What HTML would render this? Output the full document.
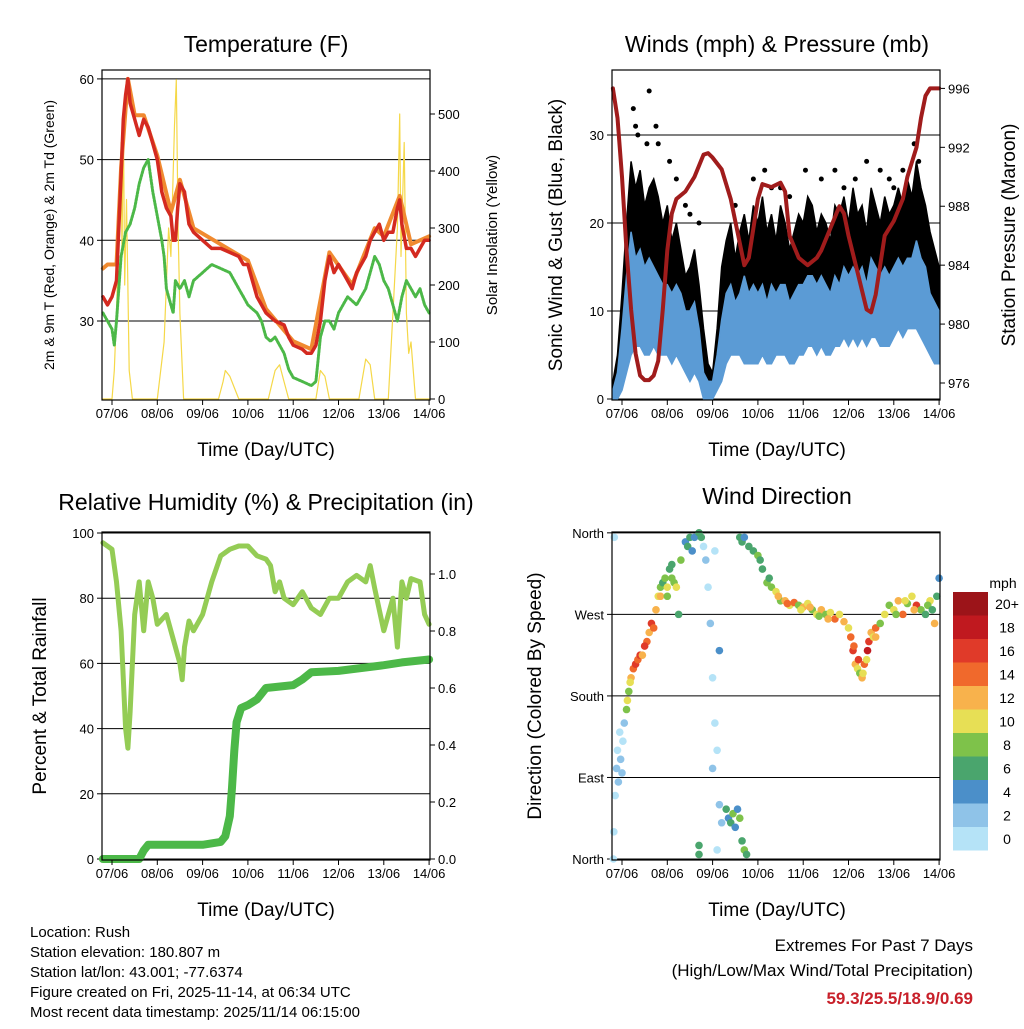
<!DOCTYPE html>
<html><head><meta charset="utf-8"><style>
body{margin:0;background:#fff}
svg text{font-family:"Liberation Sans",sans-serif;fill:#000}
</style></head><body>
<svg id="s" width="1024" height="1024" viewBox="0 0 1024 1024" xmlns="http://www.w3.org/2000/svg">
<text x="266" y="52" font-size="23" text-anchor="middle">Temperature (F)</text>
<text x="777" y="52" font-size="23" text-anchor="middle">Winds (mph) &amp; Pressure (mb)</text>
<text x="266" y="510" font-size="23" text-anchor="middle">Relative Humidity (%) &amp; Precipitation (in)</text>
<text x="777" y="504" font-size="23" text-anchor="middle">Wind Direction</text>
<text x="266" y="456" font-size="19" text-anchor="middle">Time (Day/UTC)</text>
<text x="777" y="456" font-size="19" text-anchor="middle">Time (Day/UTC)</text>
<text x="266" y="916" font-size="19" text-anchor="middle">Time (Day/UTC)</text>
<text x="777" y="916" font-size="19" text-anchor="middle">Time (Day/UTC)</text>
<text transform="translate(54,235) rotate(-90)" font-size="14" text-anchor="middle">2m &amp; 9m T (Red, Orange) &amp; 2m Td (Green)</text>
<text transform="translate(497,235) rotate(-90)" font-size="15" text-anchor="middle">Solar Insolation (Yellow)</text>
<text transform="translate(562,235) rotate(-90)" font-size="19" text-anchor="middle">Sonic Wind &amp; Gust (Blue, Black)</text>
<text transform="translate(1015,235) rotate(-90)" font-size="19" text-anchor="middle">Station Pressure (Maroon)</text>
<text transform="translate(46,696) rotate(-90)" font-size="19" text-anchor="middle">Percent &amp; Total Rainfall</text>
<text transform="translate(541,696) rotate(-90)" font-size="19" text-anchor="middle">Direction (Colored By Speed)</text>
<text x="1003" y="588" font-size="14" text-anchor="middle">mph</text>
<g font-size="15">
<text x="30" y="937">Location: Rush</text>
<text x="30" y="957">Station elevation: 180.807 m</text>
<text x="30" y="977">Station lat/lon: 43.001; -77.6374</text>
<text x="30" y="997">Figure created on Fri, 2025-11-14, at 06:34 UTC</text>
<text x="30" y="1017">Most recent data timestamp: 2025/11/14 06:15:00</text>
</g>
<g font-size="17" text-anchor="end">
<text x="973" y="951">Extremes For Past 7 Days</text>
<text x="973" y="976">(High/Low/Max Wind/Total Precipitation)</text>
<text x="973" y="1004" style="fill:#c8202a;font-weight:bold">59.3/25.5/18.9/0.69</text>
</g>
</svg>
<script>
const days=["07/06","08/06","09/06","10/06","11/06","12/06","13/06","14/06"];
const tempT=[[-0.2,33],[-0.1,32],[0,33],[0.1,35],[0.2,48],[0.25,55],[0.3,58],[0.35,60],[0.4,57],[0.5,55],[0.6,53],[0.7,55],[0.8,54],[0.9,52],[1.0,50],[1.05,48],[1.1,46],[1.2,44],[1.3,43],[1.35,40],[1.4,40],[1.45,44],[1.5,47],[1.6,46],[1.65,44],[1.7,42],[1.8,41],[2.0,40],[2.2,39],[2.4,39],[2.6,38.5],[2.8,38],[2.9,37],[3.0,37],[3.1,35],[3.2,33],[3.4,31],[3.6,30],[3.8,29.5],[3.9,28],[4.0,27],[4.2,26.5],[4.3,26],[4.4,26],[4.5,27],[4.6,30],[4.7,35],[4.8,38],[4.9,36],[5.0,37],[5.2,35],[5.3,34],[5.4,36],[5.6,38],[5.7,40],[5.8,41],[5.9,42],[6.0,40],[6.1,41],[6.2,41],[6.3,44],[6.35,45],[6.4,42],[6.5,39],[6.6,39],[6.7,38],[6.8,39],[6.9,40],[7.0,40]];
const temp9m=[[-0.2,36.5],[-0.1,37],[0,37],[0.1,37],[0.2,49],[0.35,60],[0.5,55.5],[0.7,55.5],[1.0,50.5],[1.3,43.5],[1.5,47.5],[1.8,41.5],[2.4,39.5],[3.0,37.5],[3.4,31.5],[4.0,27.5],[4.4,26.5],[4.8,38.5],[5.3,34.5],[5.8,41.5],[6.0,40.5],[6.35,45.5],[6.6,39.5],[7.0,40.5]];
const dewTd=[[-0.2,31],[-0.1,30],[0,29],[0.05,27],[0.1,30],[0.2,38],[0.3,41],[0.4,42],[0.5,44],[0.6,47],[0.7,49],[0.8,50],[0.9,46],[1.0,43],[1.1,40],[1.15,38],[1.2,34],[1.3,32],[1.35,31],[1.4,35],[1.5,34],[1.6,35],[1.7,33],[1.8,35],[2.0,36],[2.2,37],[2.4,36.5],[2.6,36],[2.8,34],[2.9,33],[3.0,32],[3.1,31.5],[3.2,31],[3.3,30],[3.4,28],[3.5,27.5],[3.6,28],[3.7,27],[3.8,26],[3.9,24],[4.0,23],[4.2,22.5],[4.4,22],[4.5,22.5],[4.6,28],[4.7,30],[4.8,30],[4.9,29],[5.0,31],[5.2,33],[5.4,32],[5.6,34],[5.7,36],[5.8,38],[5.9,37],[6.0,35],[6.1,34],[6.2,32],[6.3,30],[6.4,33],[6.5,35],[6.6,34],[6.7,33],[6.8,34],[6.9,32],[7.0,31]];
const solar=[[-0.2,0],[0,0],[0.05,50],[0.1,150],[0.15,300],[0.2,450],[0.22,250],[0.25,500],[0.28,200],[0.32,350],[0.38,50],[0.45,0],[1.0,0],[1.15,100],[1.25,300],[1.3,250],[1.38,480],[1.42,560],[1.46,300],[1.5,150],[1.58,0],[2.35,0],[2.45,30],[2.5,50],[2.6,40],[2.7,20],[2.8,0],[3.45,0],[3.6,50],[3.7,60],[3.8,30],[3.9,0],[4.5,0],[4.6,50],[4.7,40],[4.8,0],[5.45,0],[5.6,70],[5.7,60],[5.8,0],[6.1,0],[6.2,150],[6.3,300],[6.35,500],[6.38,250],[6.45,450],[6.5,150],[6.55,80],[6.6,100],[6.7,0],[7.0,0]];
const windTimes=[-0.2,-0.1,0,0.1,0.2,0.3,0.4,0.5,0.6,0.7,0.8,0.9,1.0,1.1,1.2,1.3,1.4,1.5,1.6,1.7,1.8,1.9,2.0,2.1,2.2,2.3,2.4,2.5,2.6,2.7,2.8,2.9,3.0,3.1,3.2,3.3,3.4,3.5,3.6,3.7,3.8,3.9,4.0,4.1,4.2,4.3,4.4,4.5,4.6,4.7,4.8,4.9,5.0,5.1,5.2,5.3,5.4,5.5,5.6,5.7,5.8,5.9,6.0,6.1,6.2,6.3,6.4,6.5,6.6,6.7,6.8,6.9,7.0];
const gustHi=[2,5,12,20,27,24,26,22,24,25,23,20,22,18,20,17,14,15,17,13,8,4,3,8,15,18,20,16,19,21,18,22,20,23,19,21,18,22,20,17,19,21,20,23,22,19,21,20,18,22,21,23,20,24,21,22,19,24,22,20,23,21,22,24,22,25,23,27,24,22,19,17,15];
const gustLo=[0,1,2,6,9,11,12,10,11,12,11,10,11,9,10,9,7,6,7,5,2,1,1,3,6,8,9,9,10,10,9,10,9,10,9,10,10,10,11,9,9,10,10,11,11,10,11,10,10,11,11,12,11,12,11,12,11,12,12,11,12,11,12,13,12,13,13,14,13,12,10,9,8];
const windHi=[1,3,8,14,19,16,17,15,16,15,14,13,13,12,13,12,10,10,11,8,3,2,2,5,9,12,13,11,12,14,12,13,12,13,11,13,12,13,13,11,12,13,13,14,14,13,14,13,12,14,13,15,14,15,14,15,13,16,15,14,15,14,15,16,15,16,16,18,16,15,12,11,10];
const windLo=[0,0,1,3,5,6,6,5,5,6,5,5,5,4,5,4,3,2,3,2,0,0,0,1,2,4,5,5,5,4,4,4,4,5,4,4,5,5,5,4,4,5,5,6,6,5,6,5,5,6,6,7,6,7,6,7,6,7,7,6,6,6,7,8,7,8,8,8,7,6,5,4,4];
const gustPeaks=[[0.25,33],[0.35,30],[0.6,35],[0.8,29],[0.75,31],[1.05,27],[1.2,25],[1.4,22],[1.7,20],[2.5,22],[2.9,25],[3.15,26],[3.5,24],[3.7,23],[4.05,26],[4.4,25],[4.7,26],[5.15,25],[5.4,27],[5.7,26],[6.0,24],[6.2,26],[6.45,29],[6.55,27],[6.7,20],[0.3,31],[0.55,29],[1.5,21],[3.3,24],[4.9,24],[5.9,25]];
const pressure=[[-0.2,996],[-0.1,994],[0,990],[0.1,985],[0.2,981],[0.3,978],[0.4,976.5],[0.5,976.2],[0.6,976.2],[0.7,976.5],[0.8,977.5],[0.9,981],[1.0,985],[1.1,987.5],[1.2,988.5],[1.4,989],[1.6,990],[1.8,991.5],[1.9,991.6],[2.0,991.3],[2.2,990.5],[2.4,988.5],[2.6,985.5],[2.7,984],[2.8,984.5],[2.9,986.5],[3.0,988.5],[3.1,989.5],[3.3,989.3],[3.5,989.6],[3.6,989],[3.7,986],[3.9,984.5],[4.1,984],[4.3,984.5],[4.4,985],[4.6,986.5],[4.8,988],[4.9,987.5],[5.0,986],[5.2,983.5],[5.4,981],[5.5,980.8],[5.6,982],[5.8,986],[6.0,987],[6.2,988.5],[6.3,990],[6.5,992],[6.6,994],[6.7,995.5],[6.8,996],[7.0,996]];
const rh=[[-0.2,97],[0,95],[0.1,85],[0.2,70],[0.3,40],[0.35,34],[0.4,45],[0.5,75],[0.6,85],[0.7,70],[0.8,85],[0.9,80],[1.0,72],[1.2,75],[1.4,65],[1.5,60],[1.55,55],[1.6,65],[1.7,73],[1.8,70],[2.0,75],[2.2,85],[2.4,93],[2.6,95],[2.8,96],[3.0,96],[3.2,93],[3.4,92],[3.5,90],[3.6,82],[3.7,85],[3.8,80],[4.0,78],[4.2,82],[4.4,77],[4.6,75],[4.8,80],[5.0,80],[5.2,85],[5.4,87],[5.6,85],[5.7,90],[5.8,83],[6.0,70],[6.2,80],[6.3,65],[6.4,85],[6.5,80],[6.6,86],[6.8,85],[6.9,75],[7.0,72]];
const precip=[[-0.2,0],[0.6,0],[0.7,0.03],[0.8,0.05],[1.0,0.05],[2.0,0.05],[2.4,0.06],[2.5,0.08],[2.6,0.15],[2.65,0.25],[2.7,0.38],[2.75,0.48],[2.85,0.53],[3.0,0.54],[3.2,0.56],[3.4,0.6],[4.0,0.61],[4.2,0.63],[4.4,0.655],[5.0,0.66],[6.0,0.68],[6.4,0.69],[7.0,0.70]];
const windDirObs=[[-0.18,30,1],[-0.15,70,1],[-0.12,100,2],[-0.1,120,1],[-0.08,85,2],[-0.05,140,1],[-0.03,110,3],[0,95,2],[0.02,130,1],[-0.17,355,1],[-0.19,0,1],[0.05,150,2],[0.1,165,8],[0.12,175,10],[0.15,185,9],[0.2,200,12],[0.25,210,14],[0.3,215,16],[0.35,220,14],[0.4,225,16],[0.45,225,12],[0.55,240,14],[0.6,250,12],[0.65,260,16],[0.7,255,14],[0.75,275,12],[0.8,290,10],[0.85,300,8],[0.9,305,6],[0.95,310,9],[1.0,300,10],[1.05,320,6],[1.1,325,7],[1.15,305,8],[1.2,300,10],[1.25,270,6],[1.3,330,8],[1.4,350,5],[1.45,345,6],[1.5,355,7],[1.55,340,4],[1.6,355,5],[1.7,360,7],[1.75,355,6],[1.7,5,6],[1.7,15,7],[1.8,345,1],[1.85,330,2],[1.9,300,1],[1.95,260,3],[2.0,200,1],[2.05,150,1],[2.0,100,2],[2.1,120,1],[2.15,60,2],[2.2,40,3],[2.1,10,1],[2.05,340,1],[2.15,230,4],[2.3,55,6],[2.35,45,4],[2.4,40,6],[2.45,50,8],[2.5,35,5],[2.55,55,4],[2.6,45,9],[2.65,20,6],[2.7,10,8],[2.75,5,6],[2.6,355,7],[2.65,350,6],[2.7,355,5],[2.8,345,7],[2.9,340,6],[3.0,335,8],[3.1,320,7],[3.2,305,9],[3.3,300,8],[3.4,295,10],[3.5,285,8],[3.6,285,12],[3.7,280,10],[3.8,283,14],[3.9,280,9],[4.0,278,12],[4.1,282,10],[4.2,275,8],[4.3,270,10],[4.4,275,12],[4.5,270,9],[4.6,272,10],[4.7,265,14],[4.8,270,11],[4.9,262,12],[5.0,255,10],[5.05,245,14],[5.1,230,16],[5.15,215,12],[5.2,210,10],[5.25,205,8],[5.3,200,12],[5.35,215,14],[5.4,220,10],[5.45,240,16],[5.5,250,12],[5.55,245,10],[5.6,255,14],[5.7,260,8],[5.8,270,10],[5.9,280,8],[6.0,275,10],[6.1,285,12],[6.2,270,14],[6.3,282,9],[6.4,290,10],[6.5,280,16],[6.6,275,8],[6.7,270,6],[6.8,285,10],[6.9,260,12],[6.95,290,6],[7.0,310,4],[0.18,195,10],[0.5,235,16],[0.85,290,12],[1.0,290,8],[1.1,310,9],[3.05,330,6],[3.25,310,7],[3.45,290,12],[3.65,282,14],[3.95,275,10],[4.15,278,12],[4.35,268,8],[4.55,265,12],[5.12,235,14],[5.22,220,16],[5.32,205,10],[5.42,230,18],[5.6,245,12],[6.05,270,8],[6.25,285,10],[6.45,275,12],[6.75,280,8],[6.85,275,6]];
const speedLabels=["0","2","4","6","8","10","12","14","16","18","20+"];
const speedColors=["#b5e3f7","#8fc3e8","#4b8fc9","#4aa56d","#7ec24a","#e7df55","#f8b24c","#f0692c","#e03a29","#c0191f","#9c1419"];
const tempTicks=[30,40,50,60],solarTicks=[0,100,200,300,400,500];
const windTicks=[0,10,20,30],pressTicks=[976,980,984,988,992,996];
const rhTicks=[0,20,40,60,80,100],prTicks=[0,0.2,0.4,0.6,0.8,1.0];
const dirTicks=[[0,"North"],[90,"East"],[180,"South"],[270,"West"],[360,"North"]];

const S=document.getElementById('s'),NS="http://www.w3.org/2000/svg";
function mk(tag,at,parent){const e=document.createElementNS(NS,tag);for(const k in at)e.setAttribute(k,at[k]);(parent||S).appendChild(e);return e;}
const X1=t=>112+t*45.3, X2=t=>622+t*45.3;
const yT=v=>321-(v-30)*8.07, yS=v=>399-v*0.57;
const yW=v=>399-v*8.8, yP=v=>383-(v-976)*14.73;
const yH=v=>859-v*3.26, yR=v=>859-v*285;
const yD=d=>859-d*0.906;
function line(arr,X,Y,col,w,name){const p=mk('polyline',{points:arr.map(a=>X(a[0]).toFixed(1)+','+Y(a[1]).toFixed(1)).join(' '),fill:'none',stroke:col,'stroke-width':w,'stroke-linejoin':'round','stroke-linecap':'round'});

return p;}
function band(hi,lo,X,Y,col,name){let pts=windTimes.map((t,i)=>X(t)+','+Y(hi[i]));pts=pts.concat(windTimes.map((t,i)=>X(t)+','+Y(lo[i])).reverse());
const p=mk('polygon',{points:pts.join(' '),fill:col,stroke:col,'stroke-width':1.5});

}
function frame(x0,y0,x1,y1,X,name){const r=mk('rect',{x:x0,y:y0,width:x1-x0,height:y1-y0,fill:'none',stroke:'#000','stroke-width':1.2});


days.forEach((d,i)=>{const x=X(i);mk('line',{x1:x,x2:x,y1:y1,y2:y1+5,stroke:'#000'});const t=mk('text',{x:x,y:y1+18,'font-size':13,'text-anchor':'middle'});t.textContent=d;

});}
function lticks(vals,Y,x0,x1,grid,fmt,side){vals.forEach(v=>{const val=Array.isArray(v)?v[0]:v,lab=Array.isArray(v)?v[1]:fmt(v);const y=Y(val);
if(grid)mk('line',{x1:x0,x2:x1,y1:y,y2:y,stroke:'#000','stroke-width':1});
const xa=side==='l'?x0:x1;mk('line',{x1:xa,x2:xa+(side==='l'?-5:5),y1:y,y2:y,stroke:'#000'});
const t=mk('text',{x:side==='l'?x0-8:x1+8,y:y+5,'font-size':13,'text-anchor':side==='l'?'end':'start'});t.textContent=lab;

});}
// Panel 1
lticks(tempTicks,yT,102,430,true,v=>v,'l');
lticks(solarTicks,yS,102,430,false,v=>v,'r');
line(solar,X1,yS,'#f5d848',1.2,'solar-line');
line(temp9m,X1,yT,'#f08a30',4,'temp-9m-line');
line(tempT,X1,yT,'#d42a20',3.5,'temp-2m-line');
line(dewTd,X1,yT,'#4cb848',3,'dewpoint-line').setAttribute('stroke-dasharray','2 1.5');
frame(102,70,430,400,X1,'temperature-plot-frame');
// Panel 2
lticks(windTicks,yW,612,940,true,v=>v,'l');
lticks(pressTicks,yP,612,940,false,v=>v,'r');
band(gustHi,gustLo,X2,yW,'#000','gust-band');
gustPeaks.forEach(g=>{const c=mk('circle',{cx:X2(g[0]),cy:yW(g[1]),r:2.5,fill:'#000'});

});
band(windHi,windLo,X2,yW,'#5b9bd5','wind-band');
line(pressure,X2,yP,'#a01c1c',4,'pressure-line');
frame(612,70,940,400,X2,'winds-plot-frame');
// Panel 3
lticks(rhTicks,yH,102,430,true,v=>v,'l');
lticks(prTicks,yR,102,430,false,v=>v.toFixed(1),'r');
line(rh,X1,yH,'#94cc55',5,'humidity-line');
line(precip,X1,yR,'#4cb848',8,'precip-line');
frame(102,532,430,860,X1,'humidity-plot-frame');
// Panel 4
lticks(dirTicks,yD,612,940,true,null,'l');
windDirObs.forEach(o=>{const c=mk('circle',{cx:X2(o[0]),cy:yD(o[1]),r:3.8,fill:speedColors[Math.min(10,Math.floor(o[2]/2))]});

});
frame(612,532,940,860,X2,'wind-direction-plot-frame');
speedColors.forEach((c,i)=>{const y=850.5-(i+1)*23.5;const r=mk('rect',{x:953,y:y,width:35,height:23.5,fill:c});


const t=mk('text',{x:1007,y:y+17,'font-size':14,'text-anchor':'middle'});t.textContent=speedLabels[i];

});
</script>
</body></html>
